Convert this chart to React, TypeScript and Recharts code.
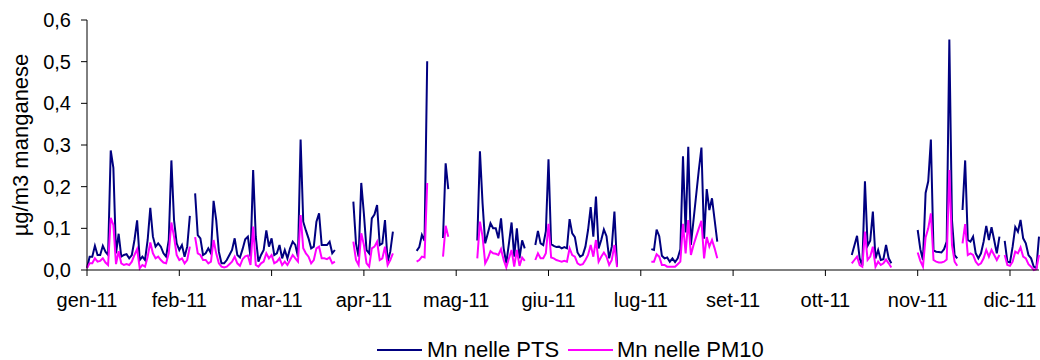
import React from 'react';
import { LineChart, Line, XAxis, YAxis, Legend, Label } from 'recharts';

const monthLabels = ['gen-11', 'feb-11', 'mar-11', 'apr-11', 'mag-11', 'giu-11', 'lug-11', 'set-11', 'ott-11', 'nov-11', 'dic-11'];
const monthTickDays = [0, 35, 70, 105, 140, 175, 210, 245, 280, 315, 350];
const yTicks = [0, 0.1, 0.2, 0.3, 0.4, 0.5, 0.6];
const lastDay = 361;

// Mn nelle PTS / Mn nelle PM10, daily values per continuous stretch (start = day index)
const pts1 = [0.005, 0.032, 0.032, 0.058, 0.036, 0.036, 0.058, 0.044, 0.036, 0.287, 0.245, 0.04, 0.087, 0.032, 0.036, 0.038, 0.028, 0.036, 0.072, 0.119, 0.024, 0.032, 0.024, 0.072, 0.149, 0.08, 0.056, 0.064, 0.056, 0.04, 0.032, 0.072, 0.263, 0.12, 0.064, 0.048, 0.06, 0.032, 0.056, 0.13];
const pm1 = [0.005, 0.016, 0.016, 0.028, 0.02, 0.022, 0.028, 0.018, 0.012, 0.125, 0.108, 0.014, 0.045, 0.016, 0.012, 0.014, 0.012, 0.02, 0.036, 0.05, 0.004, 0.012, 0.008, 0.032, 0.066, 0.04, 0.028, 0.032, 0.024, 0.018, 0.016, 0.04, 0.114, 0.08, 0.036, 0.024, 0.028, 0.016, 0.024, 0.056];

const pts2 = [0.184, 0.084, 0.076, 0.036, 0.04, 0.052, 0.04, 0.166, 0.12, 0.044, 0.016, 0.016, 0.024, 0.036, 0.048, 0.076, 0.036, 0.03, 0.05, 0.074, 0.08, 0.032, 0.24, 0.08, 0.02, 0.036, 0.048, 0.095, 0.056, 0.076, 0.036, 0.04, 0.06, 0.028, 0.048, 0.028, 0.052, 0.068, 0.06, 0.032, 0.313, 0.116, 0.095, 0.076, 0.052, 0.056, 0.116, 0.136, 0.06, 0.06, 0.06, 0.068, 0.04, 0.048];
const pm2 = [0.079, 0.04, 0.036, 0.024, 0.024, 0.016, 0.02, 0.072, 0.04, 0.016, 0.008, 0.006, 0.008, 0.014, 0.02, 0.032, 0.016, 0.01, 0.026, 0.033, 0.035, 0.012, 0.104, 0.012, 0.008, 0.016, 0.02, 0.04, 0.028, 0.036, 0.016, 0.02, 0.028, 0.012, 0.02, 0.012, 0.024, 0.036, 0.028, 0.02, 0.132, 0.052, 0.04, 0.032, 0.016, 0.024, 0.052, 0.056, 0.028, 0.028, 0.026, 0.03, 0.016, 0.02];

const pts3 = [0.164, 0.064, 0.032, 0.209, 0.135, 0.048, 0.04, 0.124, 0.133, 0.156, 0.06, 0.064, 0.12, 0.02, 0.044, 0.092];
const pm3 = [0.068, 0.024, 0.012, 0.088, 0.06, 0.016, 0.008, 0.052, 0.056, 0.068, 0.024, 0.028, 0.056, 0.012, 0.024, 0.04];

const pts4 = [0.046, 0.055, 0.084, 0.07, 0.501];
const pm4 = [0.02, 0.024, 0.032, 0.03, 0.209];

const pts5 = [0.077, 0.256, 0.194];
const pm5 = [0.032, 0.106, 0.08];

const pts6 = [0.071, 0.285, 0.16, 0.064, 0.088, 0.112, 0.1, 0.1, 0.076, 0.124, 0.052, 0.016, 0.064, 0.114, 0.032, 0.1, 0.028, 0.071, 0.052];
const pm6 = [0.028, 0.116, 0.08, 0.016, 0.028, 0.045, 0.04, 0.039, 0.036, 0.05, 0.024, 0.006, 0.028, 0.048, 0.008, 0.048, 0.01, 0.03, 0.022];

const pts7 = [0.06, 0.094, 0.064, 0.06, 0.093, 0.266, 0.062, 0.058, 0.055, 0.056, 0.052, 0.055, 0.052, 0.122, 0.088, 0.079, 0.042, 0.032, 0.036, 0.056, 0.096, 0.151, 0.08, 0.176, 0.052, 0.072, 0.097, 0.081, 0.028, 0.056, 0.14, 0.01];
const pm7 = [0.024, 0.04, 0.028, 0.028, 0.04, 0.111, 0.03, 0.028, 0.024, 0.022, 0.02, 0.022, 0.02, 0.052, 0.036, 0.032, 0.016, 0.012, 0.014, 0.024, 0.036, 0.06, 0.032, 0.072, 0.02, 0.032, 0.042, 0.032, 0.012, 0.024, 0.06, 0.007];

const pts8 = [0.05, 0.048, 0.097, 0.081, 0.034, 0.028, 0.03, 0.02, 0.028, 0.019, 0.028, 0.05, 0.273, 0.09, 0.296, 0.06, 0.12, 0.18, 0.24, 0.294, 0.075, 0.194, 0.144, 0.172, 0.12, 0.068];
const pm8 = [0.02, 0.02, 0.038, 0.032, 0.012, 0.012, 0.008, 0.008, 0.008, 0.008, 0.014, 0.02, 0.111, 0.04, 0.12, 0.036, 0.06, 0.08, 0.1, 0.118, 0.028, 0.079, 0.056, 0.072, 0.052, 0.028];

const pts9 = [0.036, 0.059, 0.082, 0.028, 0.01, 0.213, 0.058, 0.07, 0.14, 0.028, 0.048, 0.024, 0.026, 0.06, 0.028, 0.016];
const pm9 = [0.016, 0.024, 0.032, 0.012, 0.008, 0.092, 0.024, 0.032, 0.056, 0.008, 0.02, 0.012, 0.016, 0.025, 0.016, 0.006];

const pts10 = [0.096, 0.05, 0.024, 0.185, 0.213, 0.313, 0.047, 0.044, 0.043, 0.042, 0.05, 0.068, 0.553, 0.12, 0.036, 0.028];
const pm10 = [0.042, 0.022, 0.008, 0.078, 0.1, 0.136, 0.024, 0.02, 0.018, 0.018, 0.02, 0.025, 0.24, 0.06, 0.02, 0.01];

const pts11 = [0.144, 0.263, 0.072, 0.068, 0.08, 0.04, 0.028, 0.04, 0.068, 0.106, 0.072, 0.103, 0.072, 0.04, 0.08];
const pm11 = [0.064, 0.11, 0.036, 0.04, 0.036, 0.02, 0.012, 0.016, 0.028, 0.048, 0.032, 0.048, 0.036, 0.024, 0.036];

const pts12 = [0.07, 0.02, 0.018, 0.056, 0.103, 0.092, 0.12, 0.076, 0.064, 0.036, 0.028, 0.008, 0.004, 0.08];
const pm12 = [0.036, 0.012, 0.01, 0.02, 0.044, 0.04, 0.054, 0.032, 0.028, 0.014, 0.008, 0.0, 0.002, 0.036];

const segments = [
  { start: 0, pts: pts1, pm: pm1 },
  { start: 41, pts: pts2, pm: pm2 },
  { start: 101, pts: pts3, pm: pm3 },
  { start: 125, pts: pts4, pm: pm4 },
  { start: 135, pts: pts5, pm: pm5 },
  { start: 148, pts: pts6, pm: pm6 },
  { start: 170, pts: pts7, pm: pm7 },
  { start: 214, pts: pts8, pm: pm8 },
  { start: 290, pts: pts9, pm: pm9 },
  { start: 315, pts: pts10, pm: pm10 },
  { start: 332, pts: pts11, pm: pm11 },
  { start: 348, pts: pts12, pm: pm12 },
];

type Row = { day: number; pts: number | null; pm: number | null };
const data: Row[] = Array.from({ length: lastDay + 1 }, (_, day) => ({ day, pts: null, pm: null }));
segments.forEach((s) => {
  s.pts.forEach((v, i) => { data[s.start + i].pts = v; });
  s.pm.forEach((v, i) => { data[s.start + i].pm = v; });
});

const FONT = '"Liberation Sans", Arial, sans-serif';
const NAVY = '#000080';
const MAGENTA = '#FF00FF';

const LegendContent = () => (
  <div style={{ position: 'relative', width: 1040, height: 40, fontFamily: FONT, fontSize: 22, color: '#000' }}>
    <div style={{ position: 'absolute', left: 377, top: 29, width: 45, height: 2, background: NAVY }} />
    <div style={{ position: 'absolute', left: 427, top: 19, height: 21, lineHeight: '21px', whiteSpace: 'nowrap' }}>Mn nelle PTS</div>
    <div style={{ position: 'absolute', left: 568, top: 29, width: 45, height: 2, background: MAGENTA }} />
    <div style={{ position: 'absolute', left: 617, top: 19, height: 21, lineHeight: '21px', whiteSpace: 'nowrap' }}>Mn nelle PM10</div>
  </div>
);

export default function App() {
  return (
    <div style={{ width: 1040, height: 360 }}>
      <style>{'html, body { margin: 0; padding: 0; overflow: hidden; }'}</style>
      <LineChart width={1040} height={360} data={data} margin={{ top: 20, right: 1, bottom: 0, left: 8 }}>
        <XAxis
          dataKey="day"
          type="number"
          domain={[0, lastDay]}
          ticks={monthTickDays}
          interval={0}
          tickFormatter={(v: number) => monthLabels[monthTickDays.indexOf(v)]}
          axisLine={{ stroke: '#000', strokeWidth: 1 }}
          tickLine={{ stroke: '#000' }}
          tickSize={6}
          tickMargin={17}
          height={50}
          tick={{ fill: '#000', fontSize: 20, fontFamily: FONT }}
        />
        <YAxis
          domain={[0, 0.6]}
          ticks={yTicks}
          interval={0}
          tickFormatter={(v: number) => v.toFixed(1).replace('.', ',')}
          axisLine={{ stroke: '#000', strokeWidth: 1 }}
          tickLine={{ stroke: '#000' }}
          tickSize={6}
          tickMargin={10}
          width={79}
          tick={{ fill: '#000', fontSize: 20, fontFamily: FONT }}
        >
          <Label value="µg/m3 manganese" angle={-90} position="center" dx={-27} style={{ fill: '#000', fontSize: 22, fontFamily: FONT }} />
        </YAxis>
        <Legend verticalAlign="bottom" height={40} wrapperStyle={{ left: 0, width: 1040 }} content={() => <LegendContent />} />
        <Line dataKey="pts" name="Mn nelle PTS" stroke={NAVY} strokeWidth={2} dot={false} connectNulls={false} isAnimationActive={false} />
        <Line dataKey="pm" name="Mn nelle PM10" stroke={MAGENTA} strokeWidth={2} dot={false} connectNulls={false} isAnimationActive={false} />
      </LineChart>
    </div>
  );
}
